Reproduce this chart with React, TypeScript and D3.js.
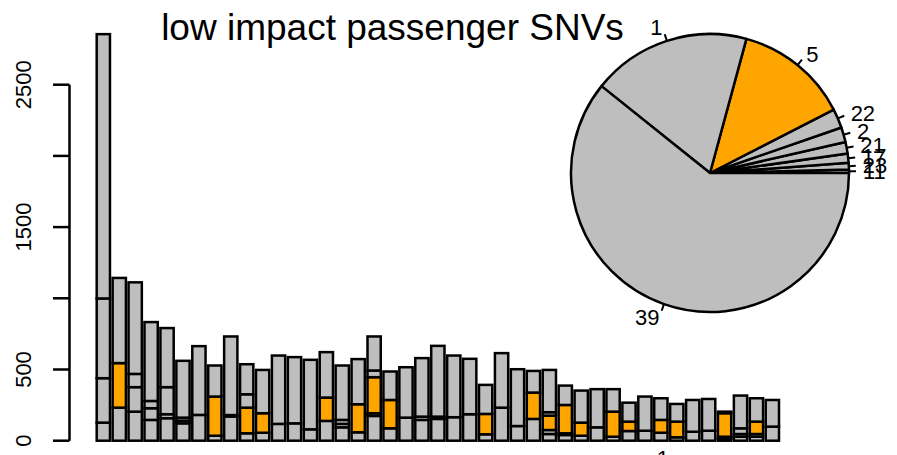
import * as d3 from 'd3'

// stacked categories, bottom to top
const categories = ['1', '2', '5', '11', '17', '21', '22', '23', '39']

const cat1 = [127, 232, 204, 146, 158, 122, 181, 35, 170, 52, 56, 118, 122, 80, 139, 94, 59, 174, 87, 162, 146, 153, 165, 186, 45, 232, 103, 153, 47, 40, 35, 94, 28, 68, 70, 56, 24, 63, 70, 10, 28, 28, 99]
const cat2 = [312, 0, 172, 82, 28, 19, 0, 0, 0, 0, 0, 0, 0, 0, 0, 24, 0, 19, 0, 0, 23, 16, 0, 0, 0, 0, 0, 0, 28, 12, 0, 0, 0, 0, 0, 0, 0, 0, 0, 18, 19, 19, 0]
const cat5 = [0, 313, 0, 0, 0, 0, 0, 275, 0, 180, 137, 0, 0, 0, 164, 0, 197, 253, 199, 0, 0, 0, 0, 0, 143, 0, 0, 185, 101, 199, 92, 0, 176, 66, 0, 90, 110, 0, 0, 165, 0, 87, 0]
const cat11 = [0, 0, 0, 0, 0, 0, 0, 0, 0, 0, 0, 0, 0, 0, 0, 0, 0, 47, 0, 0, 0, 0, 0, 0, 0, 0, 0, 0, 0, 0, 0, 0, 0, 0, 0, 0, 0, 0, 0, 0, 0, 0, 0]
const cat17 = [0, 0, 0, 0, 0, 21, 0, 0, 0, 0, 0, 0, 0, 0, 0, 28, 0, 0, 0, 0, 0, 0, 0, 0, 0, 0, 0, 0, 24, 0, 0, 0, 0, 0, 0, 0, 0, 0, 0, 0, 0, 0, 0]
const cat21 = [0, 0, 93, 0, 0, 0, 0, 0, 0, 94, 0, 0, 0, 0, 0, 0, 0, 0, 0, 0, 0, 0, 0, 0, 0, 0, 0, 0, 0, 0, 0, 0, 0, 0, 0, 0, 0, 0, 0, 0, 40, 0, 0]
const cat22 = [560, 0, 0, 51, 190, 0, 0, 0, 0, 0, 0, 0, 0, 0, 0, 0, 0, 0, 0, 0, 0, 0, 0, 0, 0, 0, 0, 0, 0, 0, 0, 0, 0, 0, 0, 0, 0, 0, 0, 0, 0, 0, 0]
const cat23 = [0, 0, 0, 0, 0, 0, 0, 0, 10, 0, 0, 0, 0, 0, 0, 0, 0, 0, 0, 0, 0, 0, 0, 0, 0, 0, 0, 0, 0, 0, 0, 0, 0, 0, 0, 0, 0, 0, 0, 0, 0, 0, 0]
const cat39 = [1856, 598, 643, 554, 415, 399, 483, 218, 552, 211, 304, 480, 465, 488, 319, 382, 317, 239, 200, 354, 411, 497, 433, 389, 204, 383, 399, 152, 297, 136, 225, 268, 158, 133, 240, 152, 124, 223, 223, 11, 230, 164, 187]

const series: Record<string, number[]> = {
  '1': cat1, '2': cat2, '5': cat5, '11': cat11, '17': cat17,
  '21': cat21, '22': cat22, '23': cat23, '39': cat39,
}

const yTicks = [0, 500, 1000, 1500, 2000, 2500]
const yTickLabels = ['0', '500', '', '1500', '', '2500']

// only one bar name is visible (cut off at the bottom)
const barNames = [{ bar: 35, text: '1' }]

// pie, in drawing order (counter-clockwise from 3 o'clock)
const pieLabels = ['11', '23', '17', '21', '2', '22', '5', '1', '39']
const pieValues = [96, 192, 263, 331, 424, 547, 3260, 4545, 14945]

const title = 'low impact passenger SNVs'

const GRAY = '#BEBEBE'
const ORANGE = '#FFA500'
const colorOf = (key: string) => (key === '5' ? ORANGE : GRAY)

export default function App() {
  const width = 897
  const height = 455
  const font = "'Liberation Sans', Arial, Helvetica, sans-serif"
  const lw = 2.5

  const rows = cat1.map((_, i) => {
    const r: any = { i }
    categories.forEach(k => { r[k] = series[k][i] })
    return r
  })
  const stacked = d3.stack<any>().keys(categories)(rows)

  const x = d3.scaleBand<number>()
    .domain(rows.map(r => r.i))
    .range([96.7, 779])
    .paddingInner(1 / 6)
    .paddingOuter(0)
  const y = d3.scaleLinear().domain([0, 2500]).range([440.7, 84.7])

  // pie
  const cx = 710
  const cy = 173
  const radius = 139
  const pie = d3.pie<number>()
    .sort(null)
    .startAngle(Math.PI / 2)
    .endAngle(Math.PI / 2 - 2 * Math.PI)
  const slices = pie(pieValues)
  const arc = d3.arc<d3.PieArcDatum<number>>().innerRadius(0).outerRadius(radius)

  return (
    <svg width={width} height={height} style={{ position: 'absolute', left: 0, top: 0 }} fontFamily={font}>
      <rect width={width} height={height} fill='white' />

      {/* bars */}
      {stacked.map(layer => (
        <g key={layer.key} fill={colorOf(layer.key)} stroke='black' strokeWidth={lw}>
          {layer.map((d, i) => (
            <rect
              key={i}
              x={x(i)}
              width={x.bandwidth()}
              y={y(d[1])}
              height={y(d[0]) - y(d[1])}
            />
          ))}
        </g>
      ))}

      {/* y axis */}
      <line x1={69.5} x2={69.5} y1={y(0)} y2={y(2500)} stroke='black' strokeWidth={lw} />
      {yTicks.map((t, i) => (
        <g key={t}>
          <line x1={53} x2={69.5} y1={y(t)} y2={y(t)} stroke='black' strokeWidth={lw} />
          {yTickLabels[i] && (
            <text
              transform={`translate(31,${y(t)}) rotate(-90)`}
              textAnchor='middle'
              fontSize={22}
            >{yTickLabels[i]}</text>
          )}
        </g>
      ))}

      {barNames.map(b => (
        <text key={b.bar} x={x(b.bar)! + x.bandwidth() / 2 + 2} y={466} textAnchor='middle' fontSize={22}>{b.text}</text>
      ))}

      <text x={392.5} y={40} textAnchor='middle' fontSize={37}>{title}</text>

      {/* pie */}
      <g transform={`translate(${cx},${cy})`}>
        {slices.map((s, i) => (
          <path key={i} d={arc(s) || ''} fill={colorOf(pieLabels[i])} stroke='black' strokeWidth={lw} strokeLinejoin='round' />
        ))}
        {slices.map((s, i) => {
          const mid = (s.startAngle + s.endAngle) / 2
          const sx = Math.sin(mid)
          const sy = -Math.cos(mid)
          return (
            <g key={'l' + i}>
              <line x1={sx * radius} y1={sy * radius} x2={sx * radius * 1.05} y2={sy * radius * 1.05} stroke='black' strokeWidth={2} />
              <text
                x={sx * radius * 1.1}
                y={sy * radius * 1.1}
                dy='0.35em'
                textAnchor={sx >= 0 ? 'start' : 'end'}
                fontSize={22}
              >{pieLabels[i]}</text>
            </g>
          )
        })}
      </g>
    </svg>
  )
}
